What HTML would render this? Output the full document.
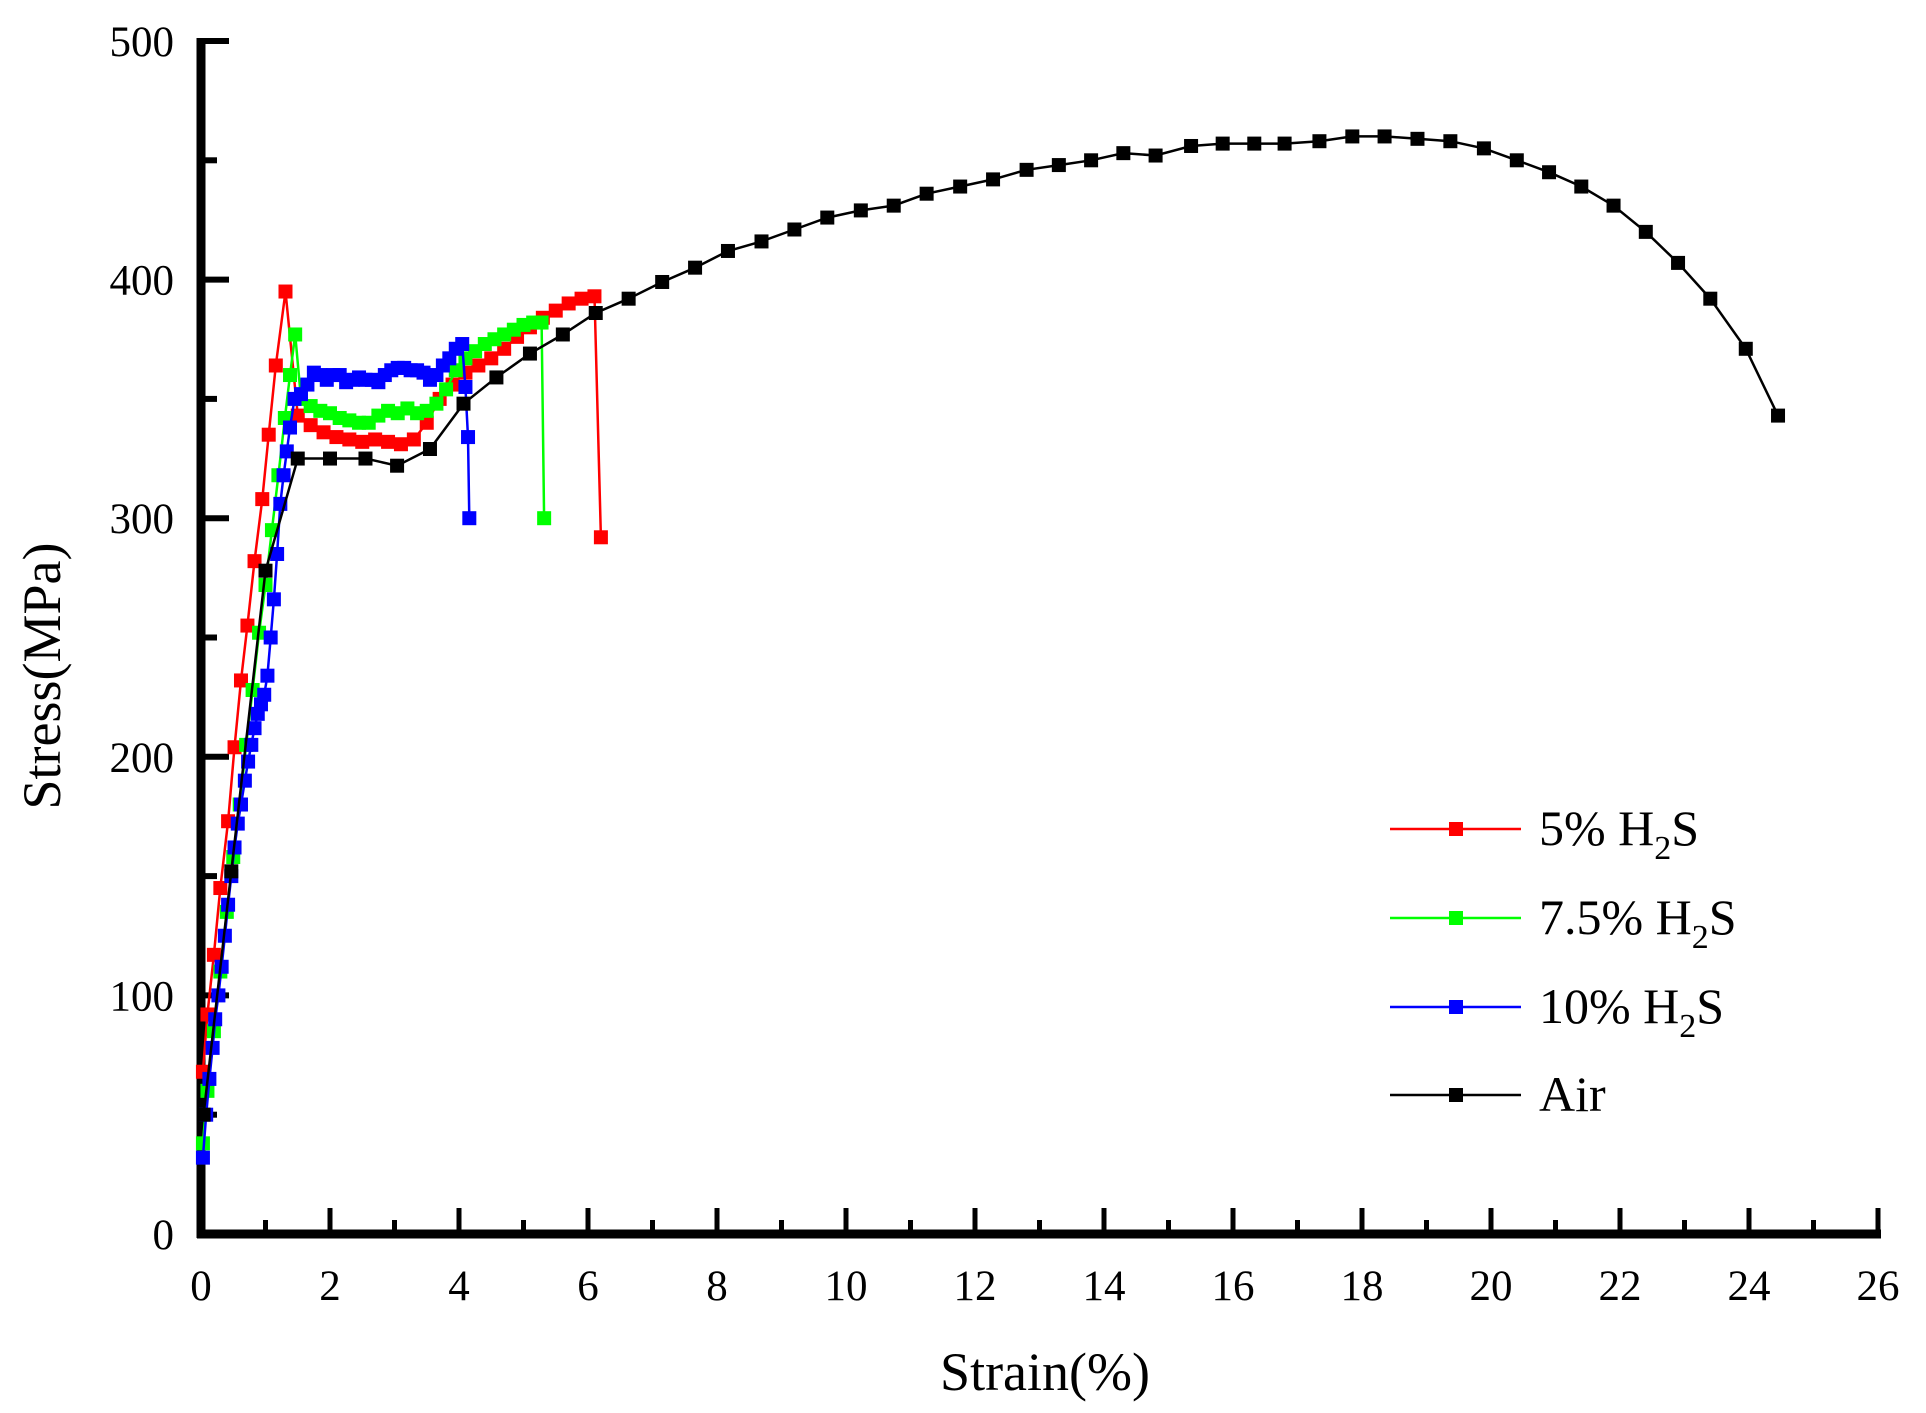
<!DOCTYPE html>
<html><head><meta charset="utf-8"><style>
html,body{margin:0;padding:0;background:#fff;}
svg{display:block;font-family:"Liberation Serif",serif;}
</style></head><body>
<svg id="chart" width="1926" height="1413" viewBox="0 0 1926 1413" xmlns="http://www.w3.org/2000/svg">
<g id="axes"></g>
<g id="series"></g>
<g id="legend"></g>
<text x="1045" y="1390" font-size="54" text-anchor="middle">Strain(%)</text>
<text transform="translate(60,676) rotate(-90)" font-size="54" text-anchor="middle">Stress(MPa)</text>
</svg>
<script>
const xTicks=[0,2,4,6,8,10,12,14,16,18,20,22,24,26];
const yTicks=[0,100,200,300,400,500];
const seriesNames=["5% H2S","7.5% H2S","10% H2S","Air"];
const seriesColors=["#ff0000","#00ff00","#0000ff","#000000"];
const redX=[0.03,0.1,0.2,0.3,0.42,0.52,0.62,0.72,0.83,0.95,1.05,1.16,1.31,1.5,1.7,1.9,2.1,2.3,2.5,2.7,2.9,3.1,3.3,3.5,3.7,3.9,4.1,4.3,4.5,4.7,4.9,5.1,5.3,5.5,5.7,5.9,6.1,6.2];
const redY=[68,92,117,145,173,204,232,255,282,308,335,364,395,343,339,336,334,333,332,333,332,331,333,340,350,356,361,364,367,371,376,380,384,387,390,392,393,292];
const greenX=[0.03,0.1,0.2,0.3,0.4,0.5,0.6,0.7,0.8,0.9,1.0,1.1,1.2,1.3,1.38,1.46,1.55,1.7,1.85,2.0,2.15,2.3,2.45,2.6,2.75,2.9,3.05,3.2,3.35,3.5,3.65,3.8,3.95,4.1,4.25,4.4,4.55,4.7,4.85,5.0,5.15,5.28,5.32];
const greenY=[38,60,85,110,135,158,180,205,228,252,272,295,318,342,360,377,350,347,345,344,342,341,340,340,343,345,344,346,344,345,348,354,362,367,370,373,375,377,379,381,382,382,300];
const blueX=[0.03,0.08,0.13,0.18,0.22,0.27,0.32,0.37,0.42,0.47,0.52,0.57,0.62,0.68,0.73,0.78,0.83,0.88,0.93,0.98,1.03,1.08,1.13,1.18,1.23,1.28,1.33,1.38,1.45,1.55,1.65,1.75,1.85,1.95,2.05,2.15,2.25,2.35,2.45,2.55,2.65,2.75,2.85,2.95,3.05,3.15,3.25,3.35,3.45,3.55,3.65,3.75,3.85,3.95,4.05,4.1,4.14,4.16];
const blueY=[32,50,65,78,90,100,112,125,138,150,162,172,180,190,198,205,212,218,222,226,234,250,266,285,306,318,328,338,350,352,356,361,360,358,360,360,357,358,359,358,358,357,360,362,363,363,362,362,361,358,360,364,367,371,373,355,334,300];
const airX=[0.04,0.47,1.0,1.5,2.0,2.55,3.04,3.55,4.07,4.58,5.1,5.61,6.12,6.63,7.15,7.66,8.17,8.69,9.2,9.71,10.23,10.74,11.25,11.77,12.28,12.8,13.3,13.8,14.3,14.8,15.35,15.84,16.33,16.8,17.34,17.85,18.35,18.86,19.37,19.89,20.4,20.9,21.4,21.9,22.4,22.9,23.4,23.95,24.45];
const airY=[50,152,278,325,325,325,322,329,348,359,369,377,386,392,399,405,412,416,421,426,429,431,436,439,442,446,448,450,453,452,456,457,457,457,458,460,460,459,458,455,450,445,439,431,420,407,392,371,343];

const X0=201,X1=1878,Y0=1234,Y1=41;
const sx=v=>X0+(v-0)/(26-0)*(X1-X0);
const sy=v=>Y0-(v-0)/(500-0)*(Y0-Y1);
const NS="http://www.w3.org/2000/svg";
function mk(tag,parent,attrs){const e=document.createElementNS(NS,tag);for(const k in attrs)e.setAttribute(k,attrs[k]);parent.appendChild(e);return e;}
const axes=document.getElementById('axes');
let e;
e=mk('line',axes,{x1:X0,y1:Y1-3,x2:X0,y2:Y0+4,stroke:'#000','stroke-width':9});

e=mk('line',axes,{x1:X0-4,y1:Y0,x2:X1+3,y2:Y0,stroke:'#000','stroke-width':9});

for(let v=0;v<=26;v+=1){const major=v%2===0;
 e=mk('line',axes,{x1:sx(v),y1:Y0,x2:sx(v),y2:Y0-(major?26:14),stroke:'#000','stroke-width':5});
 }
xTicks.forEach(v=>{e=mk('text',axes,{x:sx(v),y:1300,'font-size':43,'text-anchor':'middle'});e.textContent=v;
 });
for(let v=0;v<=500;v+=50){const major=v%100===0;
 e=mk('line',axes,{x1:X0,y1:sy(v),x2:X0+(major?28:16),y2:sy(v),stroke:'#000','stroke-width':6});
 }
yTicks.forEach(v=>{e=mk('text',axes,{x:174,y:sy(v)+15,'font-size':43,'text-anchor':'end'});e.textContent=v;
 });

const sg=document.getElementById('series');
const data=[[redX,redY],[greenX,greenY],[blueX,blueY],[airX,airY]];
const keys=['red','green','blue','air'];
data.forEach((d,i)=>{
 const g=mk('g',sg,{});
 
 const pts=d[0].map((x,j)=>sx(x).toFixed(1)+','+sy(d[1][j]).toFixed(1)).join(' ');
 const l=mk('polyline',g,{points:pts,fill:'none',stroke:seriesColors[i],'stroke-width':2.5});
 
 d[0].forEach((x,j)=>{const m=mk('rect',g,{x:sx(x)-7,y:sy(d[1][j])-7,width:14,height:14,fill:seriesColors[i]});
  });
});

const lg=document.getElementById('legend');
const labels=[['5% H','2','S'],['7.5% H','2','S'],['10% H','2','S'],['Air','','']];
const ly=[829,918,1007,1095];
labels.forEach((lb,i)=>{
 const g=mk('g',lg,{});
 
 mk('line',g,{x1:1390,y1:ly[i],x2:1521,y2:ly[i],stroke:seriesColors[i],'stroke-width':2.5});
 mk('rect',g,{x:1449,y:ly[i]-7,width:14,height:14,fill:seriesColors[i]});
 const t=mk('text',g,{x:1539,y:ly[i]+16,'font-size':50});
 t.appendChild(document.createTextNode(lb[0]));
 if(lb[1]){const s=mk('tspan',t,{'font-size':34,dy:14});s.textContent=lb[1];
  const s2=mk('tspan',t,{'font-size':50,dy:-14});s2.textContent=lb[2];}
});
</script>
</body></html>
